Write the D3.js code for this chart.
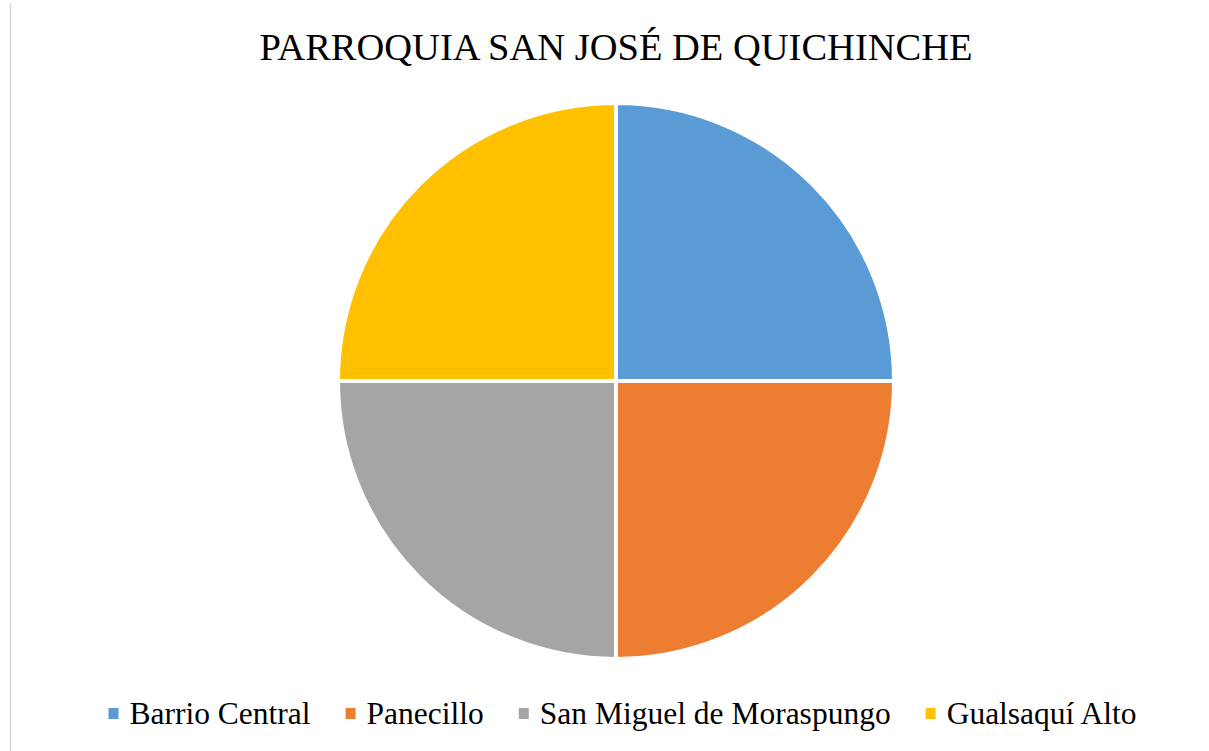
<!DOCTYPE html>
<html>
<head>
<meta charset="utf-8">
<script src="https://cdn.jsdelivr.net/npm/d3@7"></script>
</head>
<body style="margin:0">
<svg width="1209" height="751"></svg>
<script>
const categories = ["Barrio Central", "Panecillo", "San Miguel de Moraspungo", "Gualsaquí Alto"];
const values = [1, 1, 1, 1];
const colors = ["#5B9BD5", "#ED7D31", "#A5A5A5", "#FFC000"];
const title = "PARROQUIA SAN JOSÉ DE QUICHINCHE";

const svg = d3.select("svg");
const w = 1209, h = 751;
const serif = "Liberation Serif";

// left page border
svg.append("line")
   .attr("x1", 10.5).attr("x2", 10.5)
   .attr("y1", 3).attr("y2", h)
   .style("stroke", "#d4d4d4").style("stroke-width", 1.5);

svg.append("text")
   .attr("x", 616).attr("y", 59.5)
   .attr("text-anchor", "middle")
   .attr("font-family", serif)
   .attr("font-size", 38.5)
   .text(title);

const cx = 616, cy = 381, r = 278;
const data = categories.map((c, i) => ({name: c, value: values[i], color: colors[i]}));

const pie = d3.pie().sort(null).value(d => d.value);
const arc = d3.arc().innerRadius(0).outerRadius(r);

svg.append("g")
   .attr("transform", `translate(${cx},${cy})`)
   .selectAll("path")
   .data(pie(data))
   .join("path")
   .attr("d", arc)
   .style("fill", d => d.data.color)
   .style("stroke", "#fff")
   .style("stroke-width", 4);

// legend
const legend = svg.append("g");
const items = legend.selectAll("g")
   .data(data)
   .join("g");
items.append("rect")
   .attr("width", 10).attr("height", 11)
   .attr("y", -16)
   .style("fill", d => d.color);
items.append("text")
   .attr("x", 21)
   .attr("font-family", serif)
   .attr("font-size", 31.5)
   .text(d => d.name);

let x = 0;
const gap = 35;
items.each(function () {
  const g = d3.select(this);
  g.attr("transform", `translate(${x},0)`);
  x += 21 + g.select("text").node().getComputedTextLength() + gap;
});
const total = x - gap;
legend.attr("transform", `translate(${622.5 - total / 2},724)`);
</script>
</body>
</html>
